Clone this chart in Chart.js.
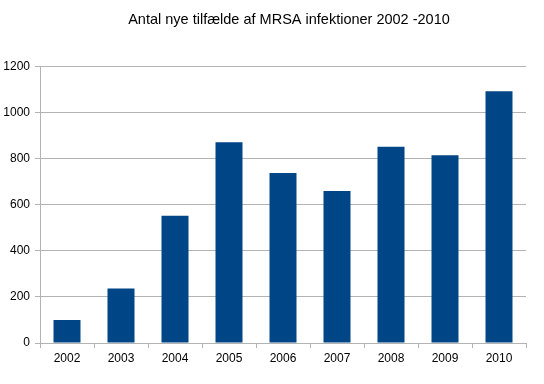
<!DOCTYPE html>
<html>
<head>
<meta charset="utf-8">
<script src="https://cdn.jsdelivr.net/npm/chart.js@4/dist/chart.umd.min.js"></script>
<style>
  html, body { margin: 0; padding: 0; background: #fff; }
  canvas { display: block; }
</style>
</head>
<body>
<canvas id="c" width="544" height="384"></canvas>
<script>
/* global Chart */

const years = ['2002', '2003', '2004', '2005', '2006', '2007', '2008', '2009', '2010'];
const cases = [100, 236, 552, 871, 738, 659, 851, 815, 1092];
const yTicks = [0, 200, 400, 600, 800, 1000, 1200];

const GRID = '#b3b3b3';
const FONT = "'Liberation Sans', Arial, sans-serif";

Chart.defaults.font.family = FONT;
Chart.defaults.color = '#000';

// Centre the title over the plot area rather than the whole canvas
const titleOverPlot = {
  id: 'titleOverPlot',
  afterLayout(chart) {
    const t = chart.titleBlock;
    t.left = chart.chartArea.left + 6;
    t.right = chart.chartArea.right + 6;
  },
};

new Chart(document.getElementById('c'), {
  type: 'bar',
  data: {
    labels: years,
    datasets: [{
      data: cases,
      backgroundColor: '#004586',
      borderWidth: 0,
      barPercentage: 0.5,
      categoryPercentage: 1.0,
    }],
  },
  options: {
    responsive: false,
    animation: false,
    devicePixelRatio: 1,
    layout: { padding: { left: 0, right: 18, top: 0, bottom: 0 } },
    plugins: {
      legend: { display: false },
      tooltip: { enabled: false },
      title: {
        display: true,
        text: 'Antal nye tilfælde af MRSA infektioner 2002 -2010',
        color: '#000',
        font: { size: 14.5, weight: 'normal', family: FONT },
        padding: { top: 11, bottom: 38 },
      },
    },
    scales: {
      x: {
        grid: {
          offset: true,
          drawOnChartArea: true,
          color: ctx => (ctx.index === years.length ? GRID : 'rgba(0,0,0,0)'),
          tickColor: GRID,
          tickLength: 5,
        },
        border: { color: GRID },
        ticks: { font: { size: 12 }, padding: 3, maxRotation: 0 },
        afterFit: scale => { scale.height = 41; },
      },
      y: {
        min: 0,
        max: 1200,
        afterBuildTicks: scale => { scale.ticks = yTicks.map(v => ({ value: v })); },
        grid: { color: GRID, tickColor: GRID, tickLength: 5 },
        border: { color: GRID },
        ticks: { font: { size: 12 }, padding: 5, callback: v => String(v) },
        afterFit: scale => { scale.width = 40; },
      },
    },
  },
  plugins: [titleOverPlot],
});
</script>
</body>
</html>
